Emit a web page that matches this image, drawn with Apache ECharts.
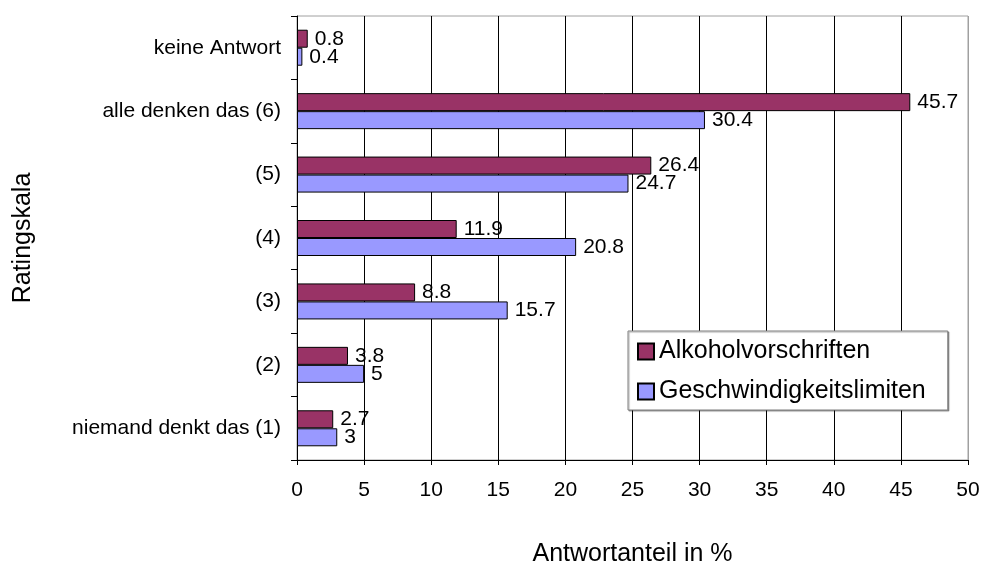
<!DOCTYPE html>
<html lang="de">
  <head>
    <meta charset="UTF-8" />
    <title>Ratingskala</title>
    <script src="https://cdn.jsdelivr.net/npm/echarts@6/dist/echarts.min.js"></script>
    <style>
      html, body { margin: 0; padding: 0; background: #fff; }
      #main { width: 981px; height: 566px; }
    </style>
  </head>
  <body>
    <div id="main"></div>
    <script>
      // Kategorien von unten nach oben
      var categories = ['niemand denkt das (1)', '(2)', '(3)', '(4)', '(5)', 'alle denken das (6)', 'keine Antwort'];
      var seriesNames = ['Alkoholvorschriften', 'Geschwindigkeitslimiten'];
      var alkohol = [2.7, 3.8, 8.8, 11.9, 26.4, 45.7, 0.8];
      var tempo = [3, 5, 15.7, 20.8, 24.7, 30.4, 0.4];
      var xMin = 0, xMax = 50, xStep = 5;

      var font = 'Liberation Sans';
      var myChart = echarts.init(document.getElementById('main'));

      // Gitterlinien schwarz, die letzte (Rand rechts) grau
      var splitColors = [];
      for (var v = xMin; v <= xMax; v += xStep) {
        splitColors.push(v === xMax ? '#a0a0a0' : '#000');
      }

      function barSeries(name, data, color) {
        return {
          name: name,
          type: 'bar',
          data: data,
          barWidth: 18,
          barGap: '0%',
          itemStyle: { color: color, borderColor: '#000', borderWidth: 1 },
          label: {
            show: true,
            position: 'right',
            distance: 7,
            color: '#000',
            fontFamily: font,
            fontSize: 21
          }
        };
      }

      var option = {
        backgroundColor: '#fff',
        animation: false,
        grid: {
          left: 297, top: 16, right: 13, bottom: 106,
          outerBoundsMode: 'none',
          containLabel: false,
          show: true,
          borderColor: '#a0a0a0',
          borderWidth: 1
        },
        legend: {
          orient: 'vertical',
          left: 628,
          top: 331,
          data: seriesNames,
          icon: 'rect',
          itemWidth: 16,
          itemHeight: 16,
          itemGap: 15,
          padding: [8, 22, 6, 9],
          backgroundColor: '#fff',
          borderColor: '#808080',
          borderWidth: 1,
          shadowColor: 'rgba(0,0,0,0.35)',
          shadowOffsetX: 1,
          shadowOffsetY: 1,
          shadowBlur: 1,
          textStyle: { color: '#000', fontFamily: font, fontSize: 25 }
        },
        xAxis: {
          type: 'value',
          min: xMin,
          max: xMax,
          interval: xStep,
          name: 'Antwortanteil in %',
          nameLocation: 'middle',
          nameGap: 82,
          nameTextStyle: { color: '#000', fontFamily: font, fontSize: 25 },
          axisLine: { show: true, lineStyle: { color: '#000', width: 1 } },
          axisTick: { show: true, length: 5, lineStyle: { color: '#000' } },
          axisLabel: { color: '#000', fontFamily: font, fontSize: 21, margin: 20 },
          splitLine: { show: true, lineStyle: { color: splitColors, width: 1 } }
        },
        yAxis: {
          type: 'category',
          data: categories,
          name: 'Ratingskala',
          nameLocation: 'middle',
          nameGap: 261,
          nameTextStyle: { color: '#000', fontFamily: font, fontSize: 25 },
          axisLine: { show: true, lineStyle: { color: '#000', width: 1 } },
          axisTick: { show: true, length: 6, lineStyle: { color: '#000' } },
          axisLabel: { color: '#000', fontFamily: font, fontSize: 21, margin: 16 },
          splitLine: { show: false }
        },
        series: [
          barSeries(seriesNames[0], alkohol, '#993366'),
          barSeries(seriesNames[1], tempo, '#9999ff')
        ]
      };

      myChart.setOption(option);
    </script>
  </body>
</html>
